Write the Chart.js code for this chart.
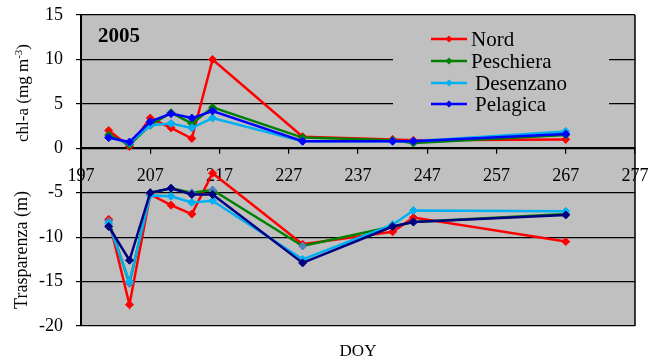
<!DOCTYPE html>
<html>
<head>
<meta charset="utf-8">
<script src="https://cdn.jsdelivr.net/npm/chart.js@4.4.0/dist/chart.umd.min.js"></script>
<style>
  html, body { margin: 0; padding: 0; background: #ffffff; }
</style>
</head>
<body>
<canvas id="chart" width="649" height="362"></canvas>
<script>
// giorni dell'anno (DOY) dei campionamenti
const doy = [201, 204, 207, 210, 213, 216, 229, 242, 245, 267];

// chl-a (mg m-3)
const nordChl      = [2.0, 0.2, 3.4, 2.3, 1.1, 10.0, 1.3, 1.0, 0.9, 1.0];
const peschieraChl = [1.5, 0.4, 2.6, 4.0, 2.8, 4.6, 1.2, 0.9, 0.6, 1.5];
const desenzanoChl = [1.2, 0.6, 2.6, 2.8, 2.3, 3.4, 0.8, 0.8, 0.8, 1.9];
const pelagicaChl  = [1.2, 0.7, 3.0, 3.9, 3.4, 4.2, 0.8, 0.8, 0.8, 1.6];

// trasparenza (m), negativa
const nordTr      = [-8.0, -17.6, -5.2, -6.4, -7.4, -2.8, -10.8, -9.4, -7.8, -10.5];
const peschieraTr = [-8.2, -15.2, -5.0, -4.5, -5.0, -4.7, -11.0, -8.8, -8.3, -7.4];
const desenzanoTr = [-8.5, -15.0, -5.3, -5.4, -6.1, -5.9, -12.5, -8.6, -7.0, -7.1];
const pelagicaTr  = [-8.8, -12.6, -5.0, -4.5, -5.2, -5.2, -12.9, -8.8, -8.3, -7.5];

const xTicks = [197, 207, 217, 227, 237, 247, 257, 267, 277];
const yTicks = [-20, -15, -10, -5, 0, 5, 10, 15];

const legendNames = ['Nord', 'Peschiera', 'Desenzano', 'Pelagica'];
const legendColors = ['#ff0000', '#008000', '#00b0f0', '#0000ff'];

const serif = '"Liberation Serif", "Times New Roman", serif';

function pts(values) {
    return values.map((v, i) => ({ x: doy[i], y: v }));
}

function serie(values, color, markerColor, order) {
    return {
        data: pts(values),
        borderColor: color,
        backgroundColor: markerColor,
        pointBackgroundColor: markerColor,
        pointBorderColor: markerColor,
        borderWidth: 2.5,
        pointStyle: 'rectRot',
        pointRadius: 4,
        pointBorderWidth: 1,
        tension: 0,
        fill: false,
        order: order
    };
}

// sfondo grigio, bordo destro, titoli e legenda
const decorPlugin = {
    id: 'decor',
    beforeDraw(chart) {
        const { ctx, chartArea: a } = chart;
        ctx.save();
        ctx.fillStyle = '#c0c0c0';
        ctx.fillRect(a.left, a.top, a.right - a.left, a.bottom - a.top);
        ctx.restore();
    },
    beforeDatasetsDraw(chart) {
        const { ctx, chartArea: a } = chart;
        ctx.save();
        ctx.strokeStyle = '#000';
        ctx.lineWidth = 1.5;
        ctx.beginPath();
        ctx.moveTo(a.right, a.top);
        ctx.lineTo(a.right, a.bottom);
        ctx.stroke();
        ctx.restore();
    },
    afterDatasetsDraw(chart) {
        const { ctx } = chart;
        ctx.save();

        // legenda
        ctx.fillStyle = '#c0c0c0';
        ctx.fillRect(393, 27, 216, 88);
        const rows = [39, 61, 83, 104];
        ctx.font = '21px ' + serif;
        ctx.textBaseline = 'middle';
        ctx.textAlign = 'left';
        legendNames.forEach((name, i) => {
            const y = rows[i];
            ctx.strokeStyle = legendColors[i];
            ctx.lineWidth = 2.5;
            ctx.beginPath();
            ctx.moveTo(431, y);
            ctx.lineTo(467, y);
            ctx.stroke();
            ctx.fillStyle = legendColors[i];
            ctx.beginPath();
            ctx.moveTo(449, y - 3.5);
            ctx.lineTo(452.5, y);
            ctx.lineTo(449, y + 3.5);
            ctx.lineTo(445.5, y);
            ctx.closePath();
            ctx.fill();
            ctx.fillStyle = '#000';
            ctx.fillText(name, i < 2 ? 471 : 475, y + 1);
        });

        // anno
        ctx.font = 'bold 21px ' + serif;
        ctx.fillText('2005', 98, 37);

        // DOY
        ctx.font = '17px ' + serif;
        ctx.textAlign = 'center';
        ctx.fillText('DOY', 358, 352);

        // titoli asse y
        ctx.save();
        ctx.translate(24, 93);
        ctx.rotate(-Math.PI / 2);
        const big = '17px ' + serif;
        const small = '11px ' + serif;
        ctx.font = big;
        const p1 = 'chl-a (mg m';
        const p3 = ')';
        const w1 = ctx.measureText(p1).width;
        const w3 = ctx.measureText(p3).width;
        ctx.font = small;
        const w2 = ctx.measureText('-3').width;
        let x = -(w1 + w2 + w3) / 2;
        ctx.textAlign = 'left';
        ctx.font = big;
        ctx.fillText(p1, x, 0);
        x += w1;
        ctx.font = small;
        ctx.fillText('-3', x, -5);
        x += w2;
        ctx.font = big;
        ctx.fillText(p3, x, 0);
        ctx.restore();

        ctx.save();
        ctx.translate(22, 250);
        ctx.rotate(-Math.PI / 2);
        ctx.font = '18px ' + serif;
        ctx.textAlign = 'center';
        ctx.fillText('Trasparenza (m)', 0, 0);
        ctx.restore();

        ctx.restore();
    }
};

new Chart(document.getElementById('chart'), {
    type: 'line',
    data: {
        datasets: [
            serie(nordChl, '#ff0000', '#ff0000', 3),
            serie(peschieraChl, '#008000', '#008000', 2),
            serie(desenzanoChl, '#00b0f0', '#00b0f0', 1),
            serie(pelagicaChl, '#0000ff', '#0000ff', 0),
            serie(nordTr, '#ff0000', '#ff0000', 3),
            serie(peschieraTr, '#008000', '#4f81bd', 2),
            serie(desenzanoTr, '#00b0f0', '#00b0f0', 1),
            serie(pelagicaTr, '#000080', '#000080', 0)
        ]
    },
    options: {
        responsive: false,
        animation: false,
        layout: { padding: { left: 0, right: 14, top: 15, bottom: 36 } },
        plugins: {
            legend: { display: false },
            tooltip: { enabled: false },
            title: { display: false }
        },
        scales: {
            x: {
                type: 'linear',
                position: { y: 0 },
                min: 197,
                max: 277,
                afterBuildTicks(scale) {
                    scale.ticks = xTicks.map(v => ({ value: v }));
                },
                afterFit(scale) {
                    // le etichette possono sporgere oltre l'area del grafico
                    scale.paddingLeft = 0;
                    scale.paddingRight = 0;
                },
                ticks: {
                    color: '#000',
                    padding: 12,
                    font: { family: serif, size: 18 }
                },
                grid: {
                    drawOnChartArea: false,
                    drawTicks: true,
                    tickLength: 5,
                    color: '#000',
                    lineWidth: 1.2
                },
                border: { display: true, color: '#000', width: 1.8 }
            },
            y: {
                type: 'linear',
                min: -20,
                max: 15,
                afterBuildTicks(scale) {
                    scale.ticks = yTicks.map(v => ({ value: v }));
                },
                afterFit(scale) {
                    scale.width = 81;
                    scale.paddingTop = 0;
                    scale.paddingBottom = 0;
                },
                ticks: {
                    color: '#000',
                    padding: 13,
                    font: { family: serif, size: 18 }
                },
                grid: {
                    color: '#000',
                    lineWidth: 1.2,
                    drawTicks: true,
                    tickLength: 5
                },
                border: { display: true, color: '#000', width: 2 }
            }
        }
    },
    plugins: [decorPlugin]
});
</script>
</body>
</html>
